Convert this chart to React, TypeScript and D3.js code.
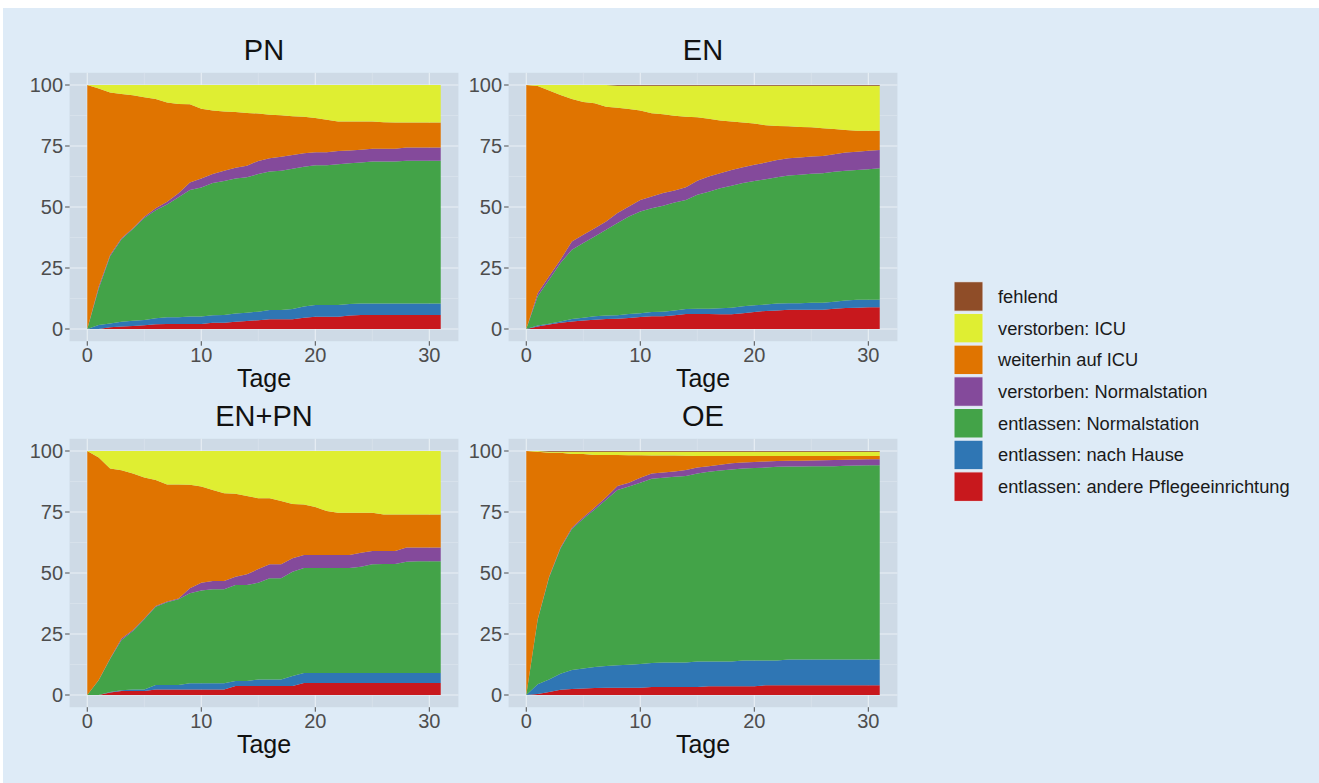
import * as d3 from 'd3'

// x: days after ICU admission
const days = [0, 1, 2, 3, 4, 5, 6, 7, 8, 9, 10, 11, 12, 13, 14, 15, 16, 17, 18, 19, 20, 21, 22, 23, 24, 25, 26, 27, 28, 29, 30, 31]

// legend order (top of stack first)
const categories = [
  'fehlend',
  'verstorben: ICU',
  'weiterhin auf ICU',
  'verstorben: Normalstation',
  'entlassen: Normalstation',
  'entlassen: nach Hause',
  'entlassen: andere Pflegeeinrichtung',
]
const colors = ['#8f4d28', '#dfee32', '#e07400', '#844a9b', '#43a348', '#2f76b4', '#c8181d']

const facetTitles = ['PN', 'EN', 'EN+PN', 'OE']
const xTicks = [0, 10, 20, 30]
const yTicks = [0, 25, 50, 75, 100]

// PN
const pnAndere = [0, 0, 0.7, 1, 1.2, 1.5, 1.9, 2, 2, 2, 2, 2.6, 2.6, 3, 3.3, 3.6, 4, 4, 4, 4.6, 5, 5, 5, 5.5, 5.7, 5.7, 5.7, 5.7, 5.7, 5.7, 5.7, 5.7]
const pnHause = [0, 1.6, 1.6, 2, 2.2, 2.2, 2.5, 2.8, 2.8, 3.1, 3.1, 3, 3.1, 3.4, 3.4, 3.5, 3.8, 3.8, 4.2, 4.6, 4.8, 4.8, 4.8, 4.7, 4.8, 4.8, 4.8, 4.8, 4.8, 4.8, 4.8, 4.8]
const pnEntlNormal = [0, 14.9, 27.5, 33.8, 37.6, 41.8, 44.3, 46.2, 49.2, 51.9, 52.9, 54.2, 55, 55.3, 55.5, 56.4, 56.7, 57.1, 57.5, 57.3, 57.3, 57.3, 57.7, 57.7, 57.7, 58.1, 58.1, 58.1, 58.5, 58.5, 58.5, 58.5]
const pnVerstNormal = [0, 0.8, 0.5, 0.4, 0.3, 0.5, 0.8, 1.2, 1.6, 3, 3.7, 3.7, 4.2, 4.4, 4.7, 5.4, 5.5, 5.7, 5.6, 5.5, 5.3, 5.3, 5.4, 5.3, 5.3, 5.3, 5.3, 5.3, 5.4, 5.4, 5.4, 5.4]
const pnWeiterICU = [100, 81.3, 66.6, 59.1, 54.5, 49, 44.8, 40.6, 36.6, 32.1, 28.6, 26, 24.2, 22.8, 21.6, 19.4, 17.8, 17, 15.9, 15, 14.1, 13.4, 12.1, 11.8, 11.5, 11.1, 10.8, 10.7, 10.2, 10.2, 10.2, 10.2]
const pnVerstICU = [0, 1.4, 3.1, 3.7, 4.2, 5, 5.7, 7.2, 7.8, 7.9, 9.7, 10.5, 10.9, 11.1, 11.5, 11.7, 12.2, 12.4, 12.8, 13, 13.5, 14.2, 15, 15, 15, 15, 15.3, 15.4, 15.4, 15.4, 15.4, 15.4]
const pnFehlend = [0, 0, 0, 0, 0, 0, 0, 0, 0, 0, 0, 0, 0, 0, 0, 0, 0, 0, 0, 0, 0, 0, 0, 0, 0, 0, 0, 0, 0, 0, 0, 0]

// EN
const enAndere = [0, 1, 1.8, 2.6, 3.1, 3.5, 3.8, 4.1, 4.2, 4.5, 4.9, 5.2, 5.2, 5.6, 6.1, 6.1, 6.1, 6, 6, 6.5, 7, 7.4, 7.6, 7.9, 7.9, 7.9, 7.9, 8.3, 8.6, 8.7, 8.9, 8.9]
const enHause = [0, 0.4, 0.4, 0.5, 1, 1.1, 1.4, 1.4, 1.4, 1.6, 1.6, 1.8, 1.9, 2, 2.1, 2.2, 2.2, 2.5, 2.7, 2.8, 2.7, 2.6, 2.8, 2.7, 2.7, 2.9, 2.9, 2.9, 3.1, 3.3, 3.1, 3.1]
const enEntlNormal = [0, 12, 18, 23.9, 28.4, 30.6, 32.7, 35.2, 37.8, 40, 41.7, 42.5, 43.4, 44.2, 44.7, 46.7, 48, 49.2, 50, 50.5, 51, 51.4, 51.8, 52.3, 52.6, 52.8, 53, 53.2, 53.2, 53.2, 53.5, 53.9]
const enVerstNormal = [0, 1.3, 1.4, 1.4, 3.4, 3.4, 3.4, 3.4, 4.1, 4.1, 4.7, 4.8, 5.2, 5, 5.2, 5.8, 6.2, 6.1, 6.5, 6.5, 6.6, 6.8, 7.1, 7.1, 7.1, 7.1, 7.1, 7.2, 7.4, 7.4, 7.6, 7.5]
const enWeiterICU = [100, 84.9, 76.1, 67.5, 58.4, 54.4, 51.2, 47, 43.2, 40, 36.6, 34.1, 32.3, 30.6, 28.9, 26, 23.7, 21.7, 19.8, 18.3, 16.9, 15.3, 13.9, 13.1, 12.5, 12, 11.4, 10.4, 9.3, 8.7, 8.2, 7.9]
const enVerstICU = [0, 0.4, 2.3, 4.1, 5.7, 7, 7.5, 8.9, 9, 9.5, 10.2, 11.3, 11.7, 12.3, 12.7, 12.9, 13.5, 14.2, 14.7, 15.1, 15.5, 16.2, 16.5, 16.6, 16.9, 17, 17.4, 17.7, 18.1, 18.4, 18.4, 18.4]
const enFehlend = [0, 0, 0, 0, 0, 0, 0, 0, 0.3, 0.3, 0.3, 0.3, 0.3, 0.3, 0.3, 0.3, 0.3, 0.3, 0.3, 0.3, 0.3, 0.3, 0.3, 0.3, 0.3, 0.3, 0.3, 0.3, 0.3, 0.3, 0.3, 0.3]

// EN+PN
const enpnAndere = [0, 0, 1, 1.6, 1.6, 1.6, 2.3, 2.3, 2.3, 2.3, 2.3, 2.3, 2.3, 3.7, 3.7, 3.7, 3.7, 3.7, 3.7, 4.9, 4.9, 4.9, 4.9, 4.9, 4.9, 4.9, 4.9, 4.9, 4.9, 4.9, 4.9, 4.9]
const enpnHause = [0, 0, 0.2, 0.3, 0.7, 0.7, 1.8, 1.8, 1.8, 2.5, 2.5, 2.5, 2.5, 2, 2, 2.7, 2.7, 2.7, 4.1, 4.1, 4.1, 4.1, 4.1, 4.1, 4.1, 4.1, 4.1, 4.1, 4.1, 4.1, 4.1, 4.1]
const enpnEntlNormal = [0, 6, 13.6, 20.6, 23.9, 28.7, 32.1, 33.9, 35.1, 36.9, 38, 38.5, 38.5, 39.4, 39.4, 39.6, 41.4, 41.4, 42.7, 43, 43, 43, 43, 43, 43.6, 44.6, 44.7, 44.7, 45.6, 45.8, 45.8, 45.8]
const enpnVerstNormal = [0, 0.1, 0.2, 0.7, 0.4, 0.4, 0.3, 0.3, 0.4, 2, 3.2, 3.4, 3.4, 3.4, 4.4, 5.6, 5.8, 5.8, 5.5, 5.4, 5.4, 5.4, 5.4, 5.4, 5.7, 5.4, 5.3, 5.3, 5.8, 5.6, 5.6, 5.6]
const enpnWeiterICU = [100, 91.2, 77.8, 68.9, 64.2, 57.7, 51.6, 48, 46.7, 42.5, 39.4, 37.3, 36, 34, 32.1, 29, 27, 25.9, 22.3, 20.7, 19.6, 18, 17.3, 17.3, 16.4, 15.7, 15, 15, 13.6, 13.6, 13.6, 13.6]
const enpnVerstICU = [0, 2.7, 7.2, 7.9, 9.2, 10.9, 11.9, 13.7, 13.7, 13.8, 14.6, 16, 17.3, 17.5, 18.4, 19.4, 19.4, 20.5, 21.7, 21.9, 23, 24.6, 25.3, 25.3, 25.3, 25.3, 26, 26, 26, 26, 26, 26]
const enpnFehlend = [0, 0, 0, 0, 0, 0, 0, 0, 0, 0, 0, 0, 0, 0, 0, 0, 0, 0, 0, 0, 0, 0, 0, 0, 0, 0, 0, 0, 0, 0, 0, 0]

// OE
const oeAndere = [0, 0.4, 1.2, 2.2, 2.5, 2.7, 2.9, 3, 3, 3, 3, 3.3, 3.3, 3.3, 3.3, 3.3, 3.6, 3.6, 3.6, 3.6, 3.6, 4, 4, 4, 4, 4, 4, 4, 4, 4, 4, 4]
const oeHause = [0, 4, 5.2, 6.5, 7.7, 8.2, 8.6, 8.9, 9.2, 9.4, 9.7, 9.8, 10, 10, 10, 10.4, 10.1, 10.1, 10.1, 10.5, 10.5, 10.1, 10.1, 10.5, 10.5, 10.5, 10.5, 10.5, 10.5, 10.5, 10.5, 10.5]
const oeEntlNormal = [0, 26.4, 41.8, 51.3, 57.8, 61.3, 64.5, 68.1, 71.8, 73.1, 74.3, 75.5, 75.7, 76.1, 76.5, 77.1, 77.8, 78.3, 78.7, 78.7, 78.9, 79.1, 79.4, 79.1, 79.1, 79.2, 79.3, 79.3, 79.5, 79.6, 79.7, 79.7]
const oeVerstNormal = [0, 0.2, 0.3, 0.5, 0.5, 0.6, 0.8, 1, 1.7, 1.5, 2, 2.2, 2.2, 2.2, 2.4, 2.4, 2.3, 2.4, 2.6, 2.5, 2.5, 2.5, 2.4, 2.4, 2.4, 2.4, 2.4, 2.5, 2.4, 2.4, 2.4, 2.4]
const oeWeiterICU = [100, 68.7, 50.8, 38.8, 30.3, 26, 21.6, 17.4, 12.7, 11.3, 9.3, 7.4, 7, 6.6, 5.9, 4.8, 4.2, 3.6, 3, 2.6, 2.4, 2.2, 2, 1.9, 1.9, 1.8, 1.7, 1.6, 1.5, 1.4, 1.3, 1.3]
const oeVerstICU = [0, 0.3, 0.4, 0.4, 0.9, 0.9, 1.3, 1.3, 1.3, 1.4, 1.4, 1.5, 1.5, 1.5, 1.6, 1.7, 1.7, 1.7, 1.7, 1.8, 1.8, 1.8, 1.8, 1.8, 1.8, 1.8, 1.8, 1.8, 1.8, 1.8, 1.8, 1.8]
const oeFehlend = [0, 0, 0.3, 0.3, 0.3, 0.3, 0.3, 0.3, 0.3, 0.3, 0.3, 0.3, 0.3, 0.3, 0.3, 0.3, 0.3, 0.3, 0.3, 0.3, 0.3, 0.3, 0.3, 0.3, 0.3, 0.3, 0.3, 0.3, 0.3, 0.3, 0.3, 0.3]

// series per facet, same order as categories
const facetSeries = [
  [pnFehlend, pnVerstICU, pnWeiterICU, pnVerstNormal, pnEntlNormal, pnHause, pnAndere],
  [enFehlend, enVerstICU, enWeiterICU, enVerstNormal, enEntlNormal, enHause, enAndere],
  [enpnFehlend, enpnVerstICU, enpnWeiterICU, enpnVerstNormal, enpnEntlNormal, enpnHause, enpnAndere],
  [oeFehlend, oeVerstICU, oeWeiterICU, oeVerstNormal, oeEntlNormal, oeHause, oeAndere],
]

const W = 1319
const H = 783
const FONT = '"Liberation Sans", Arial, Helvetica, sans-serif'

// panel boxes (ggplot-like facet grid)
const colX = [69.6, 508.6]
const rowY = [72.8, 438.8]
const panelW = 388.8
const panelH = 268.4

function Panel({ idx }: { idx: number }) {
  const left = colX[idx % 2]
  const top = rowY[Math.floor(idx / 2)]
  const right = left + panelW
  const bottom = top + panelH

  const x = d3.scaleLinear().domain([-1.55, 32.55]).range([left, right])
  const y = d3.scaleLinear().domain([-5, 105]).range([bottom, top])

  const series = facetSeries[idx]
  const rows = days.map((d, i) => {
    const r: any = { day: d }
    categories.forEach((c, k) => { r[c] = series[k][i] })
    return r
  })
  // bottom-most category first
  const keys = categories.slice().reverse()
  const stacked = d3.stack().keys(keys)(rows)
  const area = d3.area<any>()
    .x((d) => x(d.data.day))
    .y0((d) => y(d[0]))
    .y1((d) => y(d[1]))

  const xMinor = [5, 15, 25]
  const yMinor = [12.5, 37.5, 62.5, 87.5]

  return (
    <g>
      <rect x={left} y={top} width={panelW} height={panelH} fill="#cedae6" />
      {xMinor.map((t) => (
        <line key={'xm' + t} x1={x(t)} x2={x(t)} y1={top} y2={bottom} stroke="#dde6ef" strokeWidth={0.6} />
      ))}
      {yMinor.map((t) => (
        <line key={'ym' + t} x1={left} x2={right} y1={y(t)} y2={y(t)} stroke="#dde6ef" strokeWidth={0.6} />
      ))}
      {xTicks.map((t) => (
        <line key={'xg' + t} x1={x(t)} x2={x(t)} y1={top} y2={bottom} stroke="#e9eff5" strokeWidth={1.1} />
      ))}
      {yTicks.map((t) => (
        <line key={'yg' + t} x1={left} x2={right} y1={y(t)} y2={y(t)} stroke="#e9eff5" strokeWidth={1.1} />
      ))}
      {stacked.map((s) => (
        <path key={s.key} d={area(s as any) || ''} fill={colors[categories.indexOf(s.key)]} />
      ))}
      {/* axes */}
      {yTicks.map((t) => (
        <g key={'yt' + t}>
          <line x1={left - 4.5} x2={left} y1={y(t)} y2={y(t)} stroke="#4d4d4d" strokeWidth={1} />
          <text x={left - 6.5} y={y(t)} dy="0.36em" textAnchor="end" fontSize={20} fill="#4d4d4d" fontFamily={FONT}>{t}</text>
        </g>
      ))}
      {xTicks.map((t) => (
        <g key={'xt' + t}>
          <line x1={x(t)} x2={x(t)} y1={bottom} y2={bottom + 4.5} stroke="#4d4d4d" strokeWidth={1} />
          <text x={x(t)} y={bottom + 20.5} textAnchor="middle" fontSize={20} fill="#4d4d4d" fontFamily={FONT}>{t}</text>
        </g>
      ))}
      <text x={(left + right) / 2} y={top - 12.6} textAnchor="middle" fontSize={29} fill="#111" fontFamily={FONT}>{facetTitles[idx]}</text>
      <text x={(left + right) / 2} y={bottom + 45.5} textAnchor="middle" fontSize={25} fill="#111" fontFamily={FONT}>Tage</text>
    </g>
  )
}

function Legend() {
  const kx = 954
  const ky = 281.7
  const step = 31.7
  return (
    <g>
      {categories.map((c, i) => (
        <g key={c}>
          <rect x={kx} y={ky + i * step} width={29} height={29.5} fill={colors[i]} stroke="#e6edf5" strokeWidth={1} />
          <text x={998} y={ky + i * step + 14.7} dy="0.36em" fontSize={18.3} fill="#1a1a1a" fontFamily={FONT}>{c}</text>
        </g>
      ))}
    </g>
  )
}

export default function App() {
  return (
    <div style={{ position: 'absolute', left: 0, top: 0 }}>
      <svg width={W} height={H} style={{ display: 'block' }}>
        <rect x={0} y={0} width={W} height={H} fill="#ffffff" />
        <rect x={3} y={8} width={W - 3} height={H - 8} fill="#deebf7" />
        {[0, 1, 2, 3].map((i) => <Panel key={i} idx={i} />)}
        <Legend />
      </svg>
    </div>
  )
}
